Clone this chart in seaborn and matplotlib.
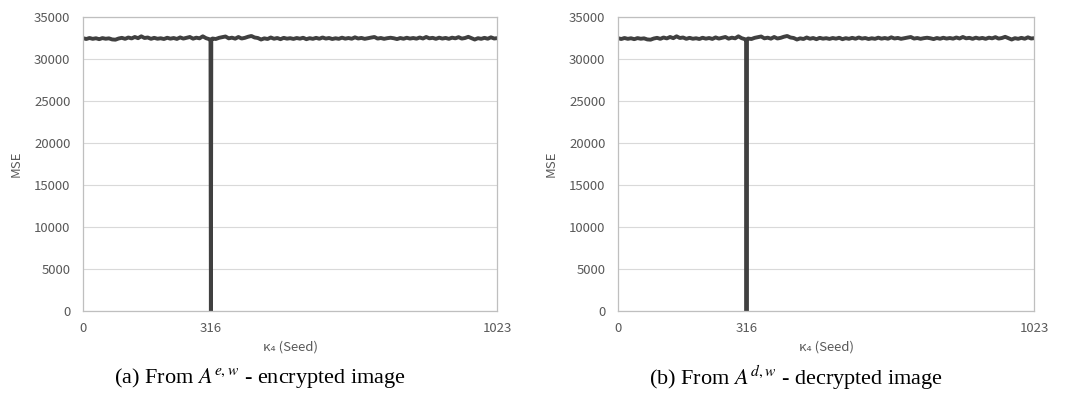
import matplotlib

matplotlib.use("Agg")

import matplotlib.pyplot as plt
import pandas as pd
import seaborn as sns

# Seeds (kappa_4) sampled along the sweep, with the correct seed 316 included
seeds = sorted(list(range(0, 1017, 8)) + [315, 316, 317, 1023])

# MSE (encrypted watermark A^{e,w})
mse_encrypted = [
    32480, 32380, 32500, 32400, 32470, 32360, 32490, 32410,
    32460, 32330, 32300, 32440, 32520, 32400, 32560, 32450,
    32620, 32480, 32700, 32500, 32560, 32400, 32520, 32410,
    32470, 32380, 32530, 32420, 32500, 32390, 32570, 32430,
    32530, 32620, 32420, 32540, 32460, 32700, 32480, 32360,
    32250, 0, 32320,
    32440, 32380, 32520, 32600, 32680, 32460, 32540, 32420,
    32620, 32440, 32520, 32650, 32740, 32560, 32500, 32320,
    32460, 32380, 32560, 32410, 32500, 32360, 32520, 32420,
    32480, 32390, 32500, 32420, 32530, 32360, 32480, 32400,
    32520, 32410, 32560, 32430, 32500, 32380, 32470, 32400,
    32540, 32420, 32500, 32410, 32580, 32440, 32510, 32400,
    32480, 32550, 32620, 32430, 32500, 32400, 32480, 32530,
    32470, 32370, 32500, 32410, 32530, 32430, 32500, 32420,
    32560, 32440, 32620, 32460, 32520, 32400, 32540, 32430,
    32510, 32400, 32540, 32460, 32600, 32430, 32500, 32640,
    32480, 32320, 32480, 32400, 32520, 32410, 32580, 32440,
    32480,
]

# MSE (decrypted watermark A^{d,w}) - same shape
mse_decrypted = [
    32480, 32380, 32500, 32400, 32470, 32360, 32490, 32410,
    32460, 32330, 32300, 32440, 32520, 32400, 32560, 32450,
    32620, 32480, 32700, 32500, 32560, 32400, 32520, 32410,
    32470, 32380, 32530, 32420, 32500, 32390, 32570, 32430,
    32530, 32620, 32420, 32540, 32460, 32700, 32480, 32360,
    32250, 0, 32320,
    32440, 32380, 32520, 32600, 32680, 32460, 32540, 32420,
    32620, 32440, 32520, 32650, 32740, 32560, 32500, 32320,
    32460, 32380, 32560, 32410, 32500, 32360, 32520, 32420,
    32480, 32390, 32500, 32420, 32530, 32360, 32480, 32400,
    32520, 32410, 32560, 32430, 32500, 32380, 32470, 32400,
    32540, 32420, 32500, 32410, 32580, 32440, 32510, 32400,
    32480, 32550, 32620, 32430, 32500, 32400, 32480, 32530,
    32470, 32370, 32500, 32410, 32530, 32430, 32500, 32420,
    32560, 32440, 32620, 32460, 32520, 32400, 32540, 32430,
    32510, 32400, 32540, 32460, 32600, 32430, 32500, 32640,
    32480, 32320, 32480, 32400, 32520, 32410, 32580, 32440,
    32480,
]

x_ticks = [0, 316, 1023]
y_ticks = [0, 5000, 10000, 15000, 20000, 25000, 30000, 35000]
captions = [
    r"(a) From $A^{e,w}$ - encrypted image",
    r"(b) From $A^{d,w}$ - decrypted image",
]

sns.set_theme(style="whitegrid")
plt.rcParams["font.family"] = ["Noto Sans CJK JP", "DejaVu Sans"]
plt.rcParams["mathtext.fontset"] = "stix"

text_gray = "#595959"

fig = plt.figure(figsize=(10.67, 4.01), dpi=100)
ax_a = fig.add_axes([0.0778, 0.2244, 0.388, 0.7332])
ax_b = fig.add_axes([0.5792, 0.2244, 0.3899, 0.7332])

panels = [
    (ax_a, mse_encrypted, captions[0], 260 / 1067),
    (ax_b, mse_decrypted, captions[1], 796 / 1067),
]

for ax, mse, caption, cap_x in panels:
    df = pd.DataFrame({"seed": seeds, "mse": mse})
    sns.lineplot(
        data=df,
        x="seed",
        y="mse",
        ax=ax,
        color="#404040",
        linewidth=2.8,
    )
    ax.set_xlim(0, 1023)
    ax.set_ylim(0, 35000)
    ax.set_xticks(x_ticks)
    ax.set_yticks(y_ticks)
    ax.grid(axis="x", visible=False)
    ax.grid(axis="y", color="#d9d9d9", linewidth=0.8)
    for spine in ax.spines.values():
        spine.set_color("#bfbfbf")
        spine.set_linewidth(0.9)
    ax.tick_params(axis="both", length=0, labelsize=9.5, colors=text_gray)
    ax.tick_params(axis="x", pad=8)
    ax.tick_params(axis="y", pad=9)
    ax.set_xlabel("κ₄ (Seed)", fontsize=9.5, color=text_gray, labelpad=4)
    ax.set_ylabel("MSE", fontsize=9.5, color=text_gray, labelpad=8)
    fig.text(
        cap_x,
        1 - 378 / 401,
        caption,
        ha="center",
        va="center",
        fontsize=16,
        family=["Liberation Serif", "DejaVu Serif"],
        color="black",
    )

fig.savefig("out.png", dpi=100)
